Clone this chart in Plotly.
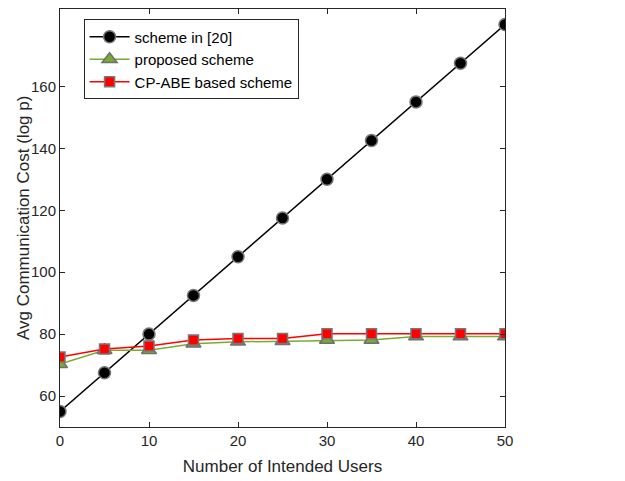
import plotly.graph_objects as go

users = [0, 5, 10, 15, 20, 25, 30, 35, 40, 45, 50]
scheme20 = [55, 67.5, 80, 92.5, 105, 117.5, 130, 142.5, 155, 167.5, 180]
proposed = [70.3, 74.8, 74.8, 76.9, 77.5, 77.7, 78.1, 78.1, 79.2, 79.2, 79.2]
cpabe = [72.6, 75.2, 76.2, 78.1, 78.6, 78.6, 80.1, 80.1, 80.1, 80.1, 80.1]

fig = go.Figure()
fig.add_trace(go.Scatter(x=users, y=scheme20, name="scheme in [20]", mode="lines+markers",
                         line=dict(color="black", width=1.5),
                         marker=dict(symbol="circle", size=12, color="black",
                                     line=dict(color="#777777", width=1.5))))
fig.add_trace(go.Scatter(x=users, y=proposed, name="proposed scheme", mode="lines+markers",
                         line=dict(color="#77AC30", width=1.5),
                         marker=dict(symbol="triangle-up", size=13, color="#77AC30",
                                     line=dict(color="#6f6f6f", width=1.5))))
fig.add_trace(go.Scatter(x=users, y=cpabe, name="CP-ABE based scheme", mode="lines+markers",
                         line=dict(color="red", width=1.5),
                         marker=dict(symbol="square", size=10, color="red",
                                     line=dict(color="#777777", width=1.5))))

axis_common = dict(showgrid=False, zeroline=False, ticks="inside", ticklen=5,
                   showline=True, linecolor="#262626", linewidth=1, mirror="ticks",
                   tickcolor="#262626", tickfont=dict(size=15, color="#262626"),
                   automargin=False)
fig.update_layout(
    width=625, height=481,
    paper_bgcolor="white", plot_bgcolor="white",
    margin=dict(l=52, r=128, t=1, b=62),
    font=dict(family="Liberation Sans, Arial, sans-serif", color="#262626"),
    xaxis=dict(range=[0, 50], tickvals=[0, 10, 20, 30, 40, 50],
               title=dict(text="Number of Intended Users", font=dict(size=17), standoff=12),
               **axis_common),
    yaxis=dict(range=[50, 185], tickvals=[60, 80, 100, 120, 140, 160],
               **axis_common),
    legend=dict(x=0.053, y=0.975, xanchor="left", yanchor="top",
                bordercolor="#262626", borderwidth=1, bgcolor="white",
                font=dict(size=15, color="black"), tracegroupgap=0, itemwidth=40),
    showlegend=True,
    annotations=[dict(text="Avg Communication Cost (log p)", textangle=-90,
                      xref="paper", yref="paper", x=0, y=0.5, xanchor="center", yanchor="middle",
                      xshift=-37, showarrow=False, font=dict(size=17, color="#262626"))],
)
fig.write_html("out.html")
